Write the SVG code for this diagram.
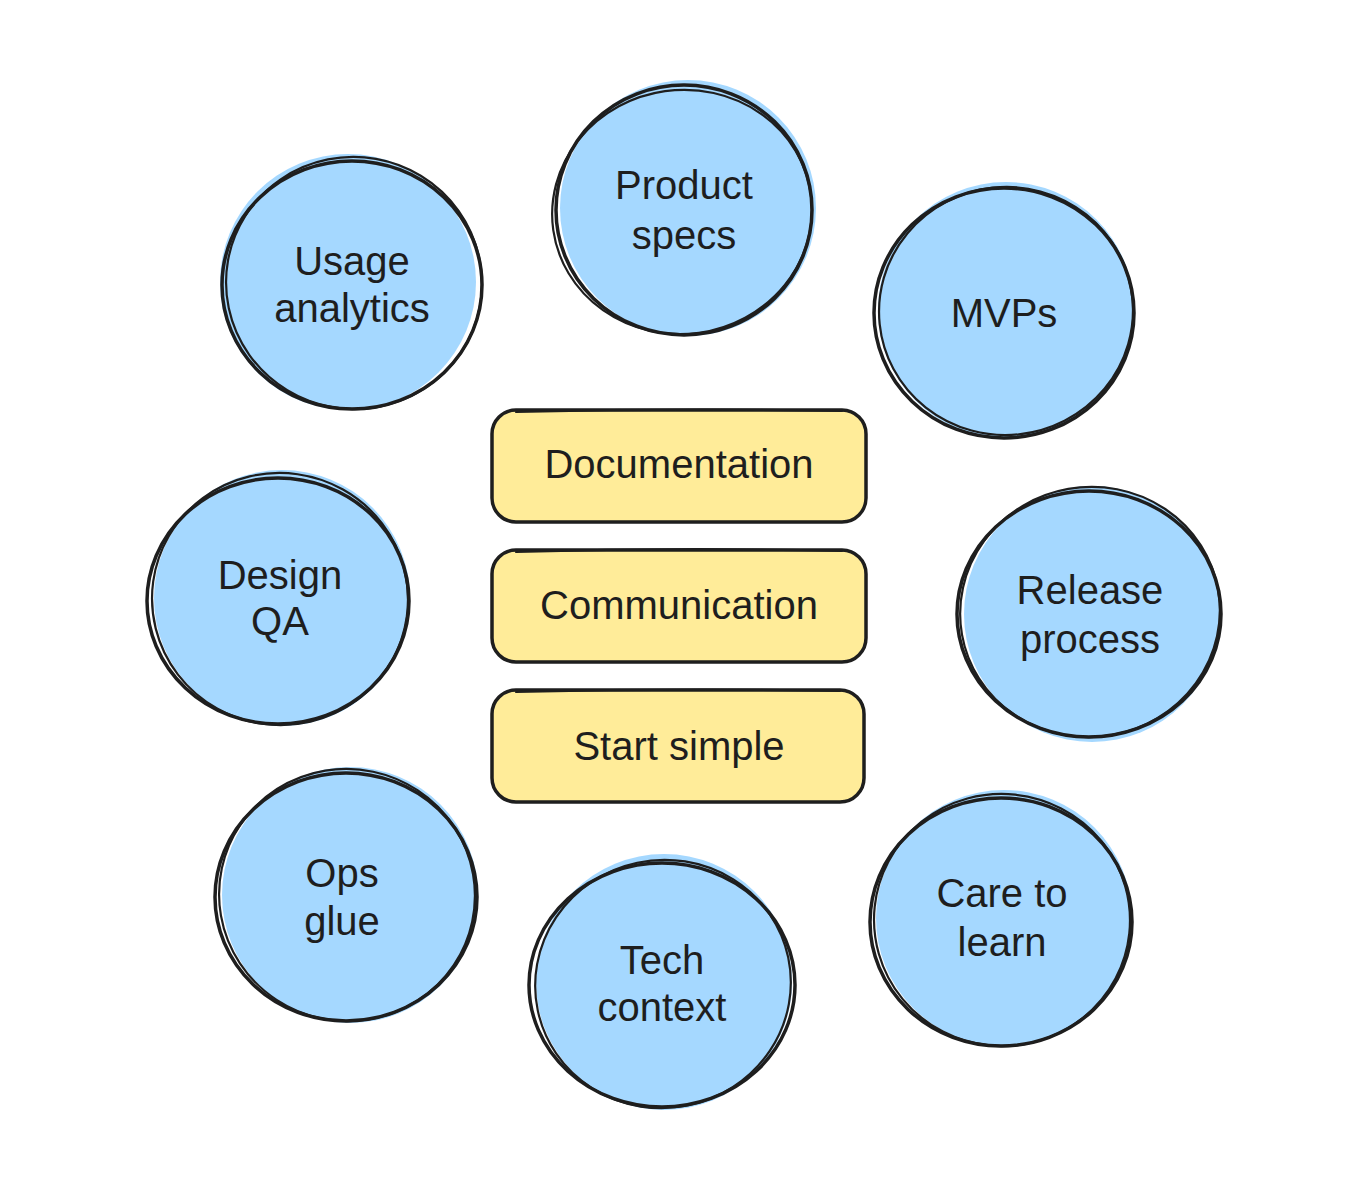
<svg xmlns="http://www.w3.org/2000/svg" width="1362" height="1204" viewBox="0 0 1362 1204">
<style>
.fillc{fill:#a5d8ff;stroke:none}
.s1{fill:none;stroke:#1e1e1e;stroke-width:3.5;stroke-linecap:round}
.s2{fill:none;stroke:#1e1e1e;stroke-width:2.2;stroke-linecap:round}
.fillr{fill:#ffec99;stroke:none}
.t{font-family:"Liberation Sans","DejaVu Sans",sans-serif;font-size:40px;fill:#1e1e1e;text-anchor:middle}
</style>
<rect width="1362" height="1204" fill="#ffffff"/>
<g id="connectors"></g>

<g id="product-specs">
<circle class="fillc" cx="688" cy="208" r="128"/>
<ellipse class="s1" cx="684" cy="210" rx="128" ry="125"/>
<ellipse class="s2" cx="682" cy="212" rx="130" ry="122" transform="rotate(-8 682 212)"/>
<text class="t" x="684" y="199">Product</text>
<text class="t" x="684" y="249">specs</text>
</g>

<g id="usage-analytics">
<circle class="fillc" cx="348" cy="282" r="128"/>
<ellipse class="s1" cx="352" cy="285" rx="130" ry="124"/>
<ellipse class="s2" cx="354" cy="283" rx="128" ry="126" transform="rotate(10 354 283)"/>
<text class="t" x="352" y="275">Usage</text>
<text class="t" x="352" y="322">analytics</text>
</g>

<g id="mvps">
<circle class="fillc" cx="1006" cy="310" r="128"/>
<ellipse class="s1" cx="1004" cy="313" rx="130" ry="125"/>
<ellipse class="s2" cx="1006" cy="311" rx="127" ry="124" transform="rotate(-6 1006 311)"/>
<text class="t" x="1004" y="327">MVPs</text>
</g>

<g id="design-qa">
<circle class="fillc" cx="282" cy="598" r="128"/>
<ellipse class="s1" cx="278" cy="601" rx="131" ry="123"/>
<ellipse class="s2" cx="280" cy="599" rx="128" ry="126" transform="rotate(8 280 599)"/>
<text class="t" x="280" y="589">Design</text>
<text class="t" x="280" y="635">QA</text>
</g>

<g id="release-process">
<circle class="fillc" cx="1092" cy="614" r="128"/>
<ellipse class="s1" cx="1089" cy="614" rx="132" ry="123"/>
<ellipse class="s2" cx="1090" cy="612" rx="130" ry="125" transform="rotate(-10 1090 612)"/>
<text class="t" x="1090" y="604">Release</text>
<text class="t" x="1090" y="653">process</text>
</g>

<g id="ops-glue">
<circle class="fillc" cx="350" cy="895" r="128"/>
<ellipse class="s1" cx="346" cy="897" rx="131" ry="124"/>
<ellipse class="s2" cx="347" cy="895" rx="128" ry="126" transform="rotate(12 347 895)"/>
<text class="t" x="342" y="887">Ops</text>
<text class="t" x="342" y="935">glue</text>
</g>

<g id="tech-context">
<circle class="fillc" cx="664" cy="982" r="128"/>
<ellipse class="s1" cx="662" cy="985" rx="133" ry="122"/>
<ellipse class="s2" cx="663" cy="984" rx="128" ry="124" transform="rotate(-12 663 984)"/>
<text class="t" x="662" y="974">Tech</text>
<text class="t" x="662" y="1021">context</text>
</g>

<g id="care-to-learn">
<circle class="fillc" cx="1004" cy="918" r="128"/>
<ellipse class="s1" cx="1001" cy="922" rx="131" ry="124"/>
<ellipse class="s2" cx="1002" cy="920" rx="128" ry="126" transform="rotate(6 1002 920)"/>
<text class="t" x="1002" y="907">Care to</text>
<text class="t" x="1002" y="956">learn</text>
</g>

<g id="documentation">
<rect class="fillr" x="492" y="410" width="374" height="112" rx="24"/>
<rect class="s1" x="492" y="410" width="374" height="112" rx="24"/>
<path class="s2" d="M516 412 Q680 408 842 411"/>
<text class="t" x="679" y="478">Documentation</text>
</g>

<g id="communication">
<rect class="fillr" x="492" y="550" width="374" height="112" rx="24"/>
<rect class="s1" x="492" y="550" width="374" height="112" rx="24"/>
<path class="s2" d="M516 552 Q680 547 842 551"/>
<text class="t" x="679" y="619">Communication</text>
</g>

<g id="start-simple">
<rect class="fillr" x="492" y="690" width="372" height="112" rx="24"/>
<rect class="s1" x="492" y="690" width="372" height="112" rx="24"/>
<path class="s2" d="M516 692 Q680 688 840 691"/>
<text class="t" x="679" y="760">Start simple</text>
</g>
</svg>
